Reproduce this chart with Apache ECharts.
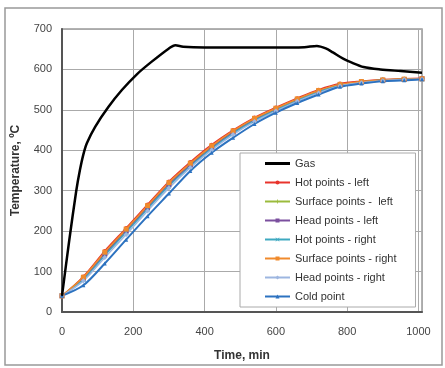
<!DOCTYPE html>
<html><head><meta charset="utf-8">
<script src="https://cdn.jsdelivr.net/npm/echarts@6/dist/echarts.min.js"></script>
<style>html,body{margin:0;padding:0;background:#fff}#c{width:445px;height:368px}</style>
</head><body><div id="c"></div>
<script>
const gasTime = [0,20,40,50,60,70,93,130,168,210,250,300,318,340,400,500,600,680,715,740,760,790,810,846,893,950,1010];
const gasTemp = [40,175,300,350,390,418,458,507,549,588,618,652,660,656,654,654,654,655,658,652,642,626,618,606,600,596,592];
const times = [0,60,120,180,240,300,360,420,480,540,600,660,720,780,840,900,960,1010];
const hotLeft = [40,88,151,208,266,323,371,414,450,481,506,529,550,565,571,575,577,578];
const surfLeft = [40,85,146,203,261,318,366,409,446,477,502,526,547,562,569,574,576,577];
const headLeft = [40,82,143,200,258,315,363,406,444,475,500,524,545,561,568,573,575,577];
const hotRight = [40,80,140,197,255,312,360,404,442,473,499,523,544,560,568,573,575,576];
const surfRight = [40,86,148,205,263,320,368,411,448,479,504,527,548,563,570,574,576,577];
const headRight = [40,77,135,192,250,307,357,401,439,471,497,521,542,559,567,572,575,576];
const coldPoint = [40,66,120,179,237,293,349,394,431,465,493,517,538,557,565,571,573,576];
const xTicks = [0,200,400,600,800,1000];
const yTicks = [0,100,200,300,400,500,600,700];

const pair = (xs, ys) => xs.map((x, i) => [x, ys[i]]);
const crossPath = 'path://M4,0H6V4H10V6H6V10H4V6H0V4H4Z';
const xPath = 'path://M1,0L5,4L9,0L10,1L6,5L10,9L9,10L5,6L1,10L0,9L4,5L0,1Z';
const dashPath = 'path://M0,4H10V6H0Z';

function heat(name, ys, color, symbol, size, w) {
  return {
    name, type: 'line', data: pair(times, ys), smooth: 0.3,
    symbol, symbolSize: size, showSymbol: true,
    lineStyle: { color, width: w }, itemStyle: { color },
    z: 3
  };
}

const chart = echarts.init(document.getElementById('c'));
const font = 'Liberation Sans Narrow, Liberation Sans, Arial, sans-serif';
const legendNames = ['Gas','Hot points - left','Surface points -  left','Head points - left','Hot points - right','Surface points - right','Head points - right','Cold point'];
chart.setOption({
  animation: false,
  textStyle: { fontFamily: font },
  graphic: [{ type: 'rect', shape: { x: 5, y: 8, width: 437, height: 357 },
    style: { fill: 'none', stroke: '#999', lineWidth: 1.5 }, z: -1 }],
  grid: { left: 62, right: 23, top: 29, bottom: 56, show: true, borderColor: '#999', borderWidth: 1.5 },
  xAxis: {
    type: 'value', min: 0, max: 1010, interval: 200,
    name: 'Time, min', nameLocation: 'middle', nameGap: 38,
    nameTextStyle: { fontWeight: 'bold', fontSize: 12, color: '#333', fontFamily: 'Liberation Sans, Arial' },
    axisLine: { show: true, lineStyle: { color: '#555', width: 2 } },
    axisTick: { show: false },
    axisLabel: { margin: 14, fontSize: 11, color: '#444', showMaxLabel: false, fontFamily: 'Liberation Sans, Arial',
      formatter: v => xTicks.includes(v) ? String(v) : '' },
    splitLine: { show: true, lineStyle: { color: '#aaa', width: 1 } }
  },
  yAxis: {
    type: 'value', min: 0, max: 700, interval: 100,
    name: 'Temperature, ºC', nameLocation: 'middle', nameGap: 40,
    nameTextStyle: { fontWeight: 'bold', fontSize: 12, color: '#333', fontFamily: 'Liberation Sans, Arial' },
    axisLine: { show: true, lineStyle: { color: '#555', width: 2 } },
    axisTick: { show: false },
    axisLabel: { margin: 10, fontSize: 11, color: '#444', fontFamily: 'Liberation Sans, Arial',
      formatter: v => yTicks.includes(v) ? String(v) : '' },
    splitLine: { show: true, lineStyle: { color: '#aaa', width: 1 } }
  },
  legend: {
    orient: 'vertical', left: 240, top: 153,
    backgroundColor: '#fff', borderColor: '#aaa', borderWidth: 1,
    padding: [5, 19, 5, 24], itemWidth: 25, itemHeight: 5, itemGap: 8,
    textStyle: { fontSize: 11, color: '#333', fontFamily: font },
    data: legendNames.map((n, i) => i === 0 ? { name: n, icon: 'path://M0,0H25V3H0Z', itemStyle: { color: '#000' } } : n)
  },
  series: [
    { name: 'Gas', type: 'line', data: pair(gasTime, gasTemp), smooth: 0.3, symbol: 'none',
      lineStyle: { color: '#000', width: 2.5 }, itemStyle: { color: '#000' }, z: 4 },
    heat('Hot points - left', hotLeft, '#e8342c', 'circle', 4, 1.5),
    heat('Surface points -  left', surfLeft, '#9bbb3c', crossPath, 5, 1.5),
    heat('Head points - left', headLeft, '#7b4f9e', 'rect', 5, 1.5),
    heat('Hot points - right', hotRight, '#3ea9c0', xPath, 5, 1.5),
    heat('Surface points - right', surfRight, '#f08a2c', dashPath, 5, 1.5),
    heat('Head points - right', headRight, '#9db6e0', 'diamond', 5, 1.5),
    heat('Cold point', coldPoint, '#2c72c0', 'triangle', 4, 2)
  ]
});
</script></body></html>
